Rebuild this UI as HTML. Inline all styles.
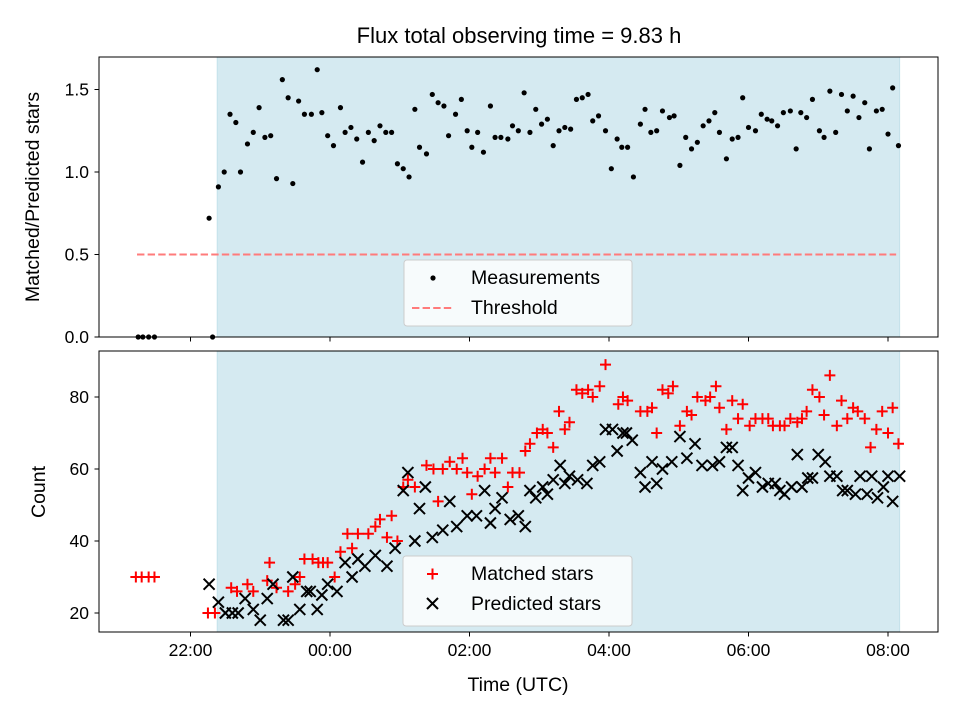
<!DOCTYPE html>
<html><head><meta charset="utf-8"><style>
body{margin:0;background:#fff;font-family:"Liberation Sans",sans-serif}
text{font-family:"Liberation Sans",sans-serif}
</style></head><body>
<svg id="c" width="960" height="720" viewBox="0 0 960 720" xmlns="http://www.w3.org/2000/svg"></svg>
<script>
// times in minutes relative to 00:00 UTC
const ratioTimes=[-165,-161,-156,-151,-104,-101,-96,-91,-86,-81,-77,-71,-66,-61,-56,-51,-46,-41,-36,-32,-27,-22,-16,-11,-7,-2,3,9,13,18,23,28,33,38,43,48,53,58,63,68,73,77,83,88,93,98,102,108,113,118,122,127,132,138,142,147,153,157,162,167,172,177,182,187,192,197,202,207,212,217,222,226,231,237,242,247,251,256,261,267,271,276,281,286,292,296,301,306,311,316,321,326,331,335,341,346,351,355,360,366,371,376,380,385,390,396,401,405,410,415,421,425,430,435,440,445,450,455,460,464,470,475,480,484,489];
const ratioValues=[0,0,0,0,.72,0,.91,1.0,1.35,1.30,1.0,1.17,1.24,1.39,1.21,1.22,.96,1.56,1.45,.93,1.43,1.35,1.35,1.62,1.36,1.22,1.16,1.39,1.24,1.27,1.20,1.06,1.24,1.19,1.28,1.24,1.24,1.05,1.02,.97,1.38,1.15,1.11,1.47,1.42,1.40,1.22,1.35,1.44,1.25,1.15,1.24,1.12,1.40,1.21,1.21,1.20,1.28,1.25,1.48,1.24,1.38,1.29,1.32,1.16,1.25,1.27,1.26,1.44,1.45,1.47,1.31,1.34,1.25,1.02,1.20,1.15,1.15,.97,1.29,1.38,1.24,1.25,1.37,1.33,1.34,1.04,1.21,1.14,1.18,1.28,1.31,1.36,1.24,1.08,1.20,1.21,1.45,1.27,1.25,1.35,1.32,1.31,1.28,1.36,1.37,1.14,1.36,1.33,1.44,1.25,1.21,1.49,1.24,1.47,1.37,1.46,1.33,1.42,1.14,1.37,1.38,1.23,1.51,1.16];
const matchedTimes=[-167,-162,-156,-151,-105,-99,-85,-80,-71,-66,-54,-52,-46,-36,-30,-26,-22,-15,-10,-6,-2,4,9,15,19,24,33,39,43,49,53,58,63,67,73,83,89,93,97,103,109,114,118,122,127,133,138,142,148,153,157,163,168,172,178,183,187,192,197,202,206,212,217,222,226,232,237,248,252,256,267,273,277,281,286,291,295,301,307,311,316,323,327,332,335,341,346,351,355,361,366,372,377,381,387,391,396,402,406,410,415,421,425,430,436,440,445,450,454,460,465,470,475,480,484,489];
const matchedValues=[30,30,30,30,20,20,27,26,28,26,29,34,27,26,28,30,35,35,34,34,34,30,37,42,38,42,42,44,46,41,47,40,55,57,55,61,60,51,60,62,60,63,59,53,58,60,63,59,63,55,59,59,65,67,70,71,70,66,76,71,73,82,81,82,80,83,89,78,80,79,76,76,77,70,82,81,83,72,76,75,80,79,80,83,77,71,79,74,78,72,74,74,74,72,72,72,74,73,74,76,82,80,75,86,72,79,74,77,76,74,66,71,76,70,77,67];
const predictedTimes=[-104,-96,-90,-84,-79,-73,-66,-60,-54,-49,-40,-36,-32,-26,-20,-17,-11,-7,-2,6,13,19,24,30,39,49,56,63,67,73,77,82,88,97,103,109,118,126,133,138,142,148,155,162,168,172,177,183,187,192,198,202,206,213,221,226,232,237,243,247,252,255,260,267,271,277,281,286,294,301,307,314,320,329,335,341,346,351,355,360,366,372,377,383,387,391,397,402,406,411,415,420,426,430,436,441,445,452,456,462,466,471,476,480,484,490];
const predictedValues=[28,23,20,20,20,24,21,18,24,28,18,18,30,21,26,26,21,25,28,26,34,30,35,33,36,33,38,54,59,40,49,55,41,43,51,44,47,47,54,45,49,52,46,47,44,54,52,55,53,57,61,56,58,57,56,61,62,71,71,65,70,70,68,59,55,62,56,60,62,69,63,67,61,61,62,66,66,61,54,57.5,59,55,56,56,54,53,55,64,55,57.5,57.5,64,62,58,58,54,54,53,58,53,58,52,55,58,51,58];
const ratioTicks=[0,0.5,1.0,1.5];
const ratioTickLabels=["0.0","0.5","1.0","1.5"];
const countTicks=[20,40,60,80];
const timeTicks=[-120,0,120,240,360,480];
const timeTickLabels=["22:00","00:00","02:00","04:00","06:00","08:00"];
const threshold=0.5, thrStart=-166, thrEnd=487;
const shadeStart=-97, shadeEnd=490;

const NS="http://www.w3.org/2000/svg";
const svg=document.getElementById('c');
function el(t,a,p){const e=document.createElementNS(NS,t);for(const k in a)e.setAttribute(k,a[k]);(p||svg).appendChild(e);return e;}
const L=99,R=938;
const xs=m=>330+m*69.75/60;
const yTop=v=>337-v*165;
const yBot=v=>613-(v-20)*3.6;
const T1=57,B1=337,T2=351,B2=632;
const TICK=17.5, LAB=19.5;

const title=el('text',{x:519,y:43,'text-anchor':'middle','font-size':22});title.textContent="Flux total observing time = 9.83 h";


function panel(top,bot,name){
  const g=el('g',{});
  const sh=el('rect',{x:xs(shadeStart),y:top,width:xs(shadeEnd)-xs(shadeStart),height:bot-top,fill:'#d5eaf1',stroke:'#c3e1ea','stroke-width':1},g);
  
  return g;
}
const g1=panel(T1,B1,'top-panel');
const g2=panel(T2,B2,'bottom-panel');

const th=el('line',{x1:xs(thrStart),x2:xs(thrEnd),y1:yTop(threshold),y2:yTop(threshold),stroke:'#ff7b7b','stroke-width':2,'stroke-dasharray':'7.4,3.2'},g1);


ratioTimes.forEach((t,i)=>{const c=el('circle',{cx:xs(t),cy:yTop(ratioValues[i]),r:2.6,fill:'#000'},g1);
});

matchedTimes.forEach((t,i)=>{const x=xs(t),y=yBot(matchedValues[i]);
const p=el('path',{d:`M${x-5.5},${y}H${x+5.5}M${x},${y-5.5}V${y+5.5}`,stroke:'#ff0000','stroke-width':2},g2);
});

predictedTimes.forEach((t,i)=>{const x=xs(t),y=yBot(predictedValues[i]);
const p=el('path',{d:`M${x-5.5},${y-5.5}L${x+5.5},${y+5.5}M${x-5.5},${y+5.5}L${x+5.5},${y-5.5}`,stroke:'#000','stroke-width':2},g2);
});

[[T1,B1],[T2,B2]].forEach(([t,b])=>{
  const f=el('rect',{x:L,y:t,width:R-L,height:b-t,fill:'none',stroke:'#000','stroke-width':1});
  
  timeTicks.forEach(m=>{el('line',{x1:xs(m),x2:xs(m),y1:b,y2:b+4.5,stroke:'#000','stroke-width':1});});
});
timeTicks.forEach((m,i)=>{const tx=el('text',{x:xs(m),y:B2+24,'text-anchor':'middle','font-size':TICK});tx.textContent=timeTickLabels[i];
});
ratioTicks.forEach((v,i)=>{el('line',{x1:L-4.5,x2:L,y1:yTop(v),y2:yTop(v),stroke:'#000'});
const tx=el('text',{x:L-10,y:yTop(v)+6,'text-anchor':'end','font-size':TICK});tx.textContent=ratioTickLabels[i];
});
countTicks.forEach(v=>{el('line',{x1:L-4.5,x2:L,y1:yBot(v),y2:yBot(v),stroke:'#000'});
const tx=el('text',{x:L-10,y:yBot(v)+6,'text-anchor':'end','font-size':TICK});tx.textContent=String(v);
});

let t=el('text',{x:518,y:691,'text-anchor':'middle','font-size':LAB});t.textContent="Time (UTC)";

t=el('text',{x:0,y:0,'text-anchor':'middle','font-size':LAB,transform:'translate(39,197) rotate(-90)'});t.textContent="Matched/Predicted stars";

t=el('text',{x:0,y:0,'text-anchor':'middle','font-size':LAB,transform:'translate(45,492) rotate(-90)'});t.textContent="Count";


function legend(x,y,w,h,name){const g=el('g',{});
el('rect',{x,y,width:w,height:h,rx:3,fill:'rgba(255,255,255,0.8)',stroke:'#cccccc'},g);return g;}
const lg1=legend(404,260,228,66,'top-legend');
el('circle',{cx:433,cy:278,r:2.6,fill:'#000'},lg1);
t=el('text',{x:471,y:284,'font-size':LAB},lg1);t.textContent="Measurements";

el('line',{x1:412,x2:454,y1:308,y2:308,stroke:'#ff7b7b','stroke-width':2,'stroke-dasharray':'7.4,3.2'},lg1);
t=el('text',{x:471,y:314,'font-size':LAB},lg1);t.textContent="Threshold";

const lg2=legend(403,556,229,70,'bottom-legend');
el('path',{d:'M427,574H438M432.5,568.5V579.5',stroke:'#f00','stroke-width':2},lg2);
t=el('text',{x:471,y:580,'font-size':LAB},lg2);t.textContent="Matched stars";

el('path',{d:'M427,598L438,609M427,609L438,598',stroke:'#000','stroke-width':2},lg2);
t=el('text',{x:471,y:610,'font-size':LAB},lg2);t.textContent="Predicted stars";

</script>
</body></html>
